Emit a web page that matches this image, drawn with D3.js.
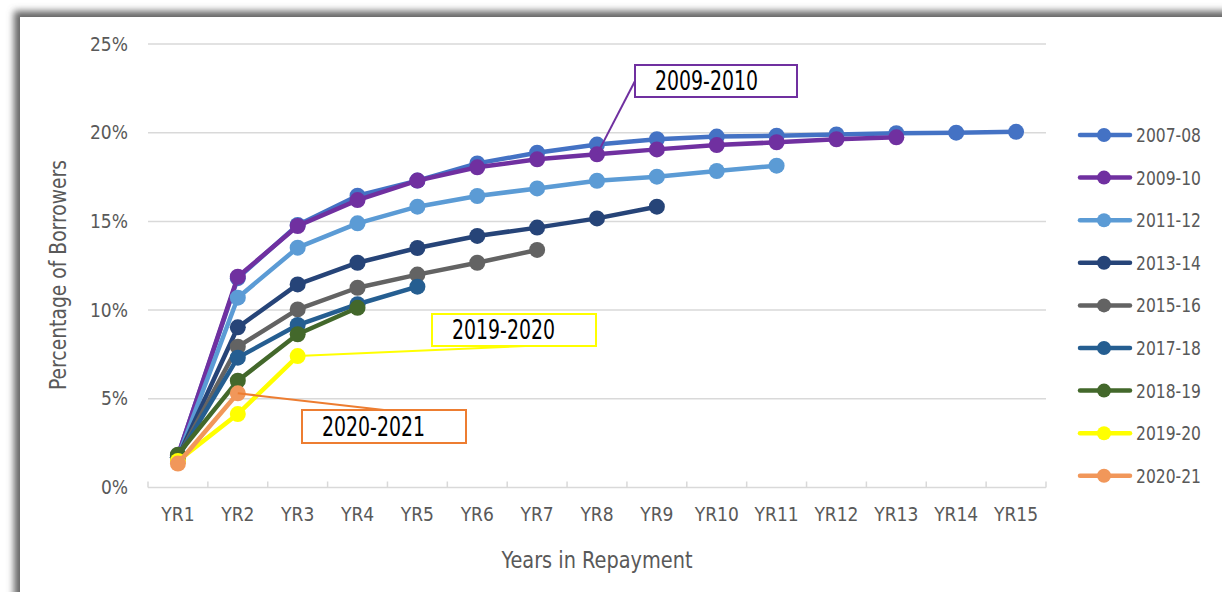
<!DOCTYPE html>
<html>
<head>
<meta charset="utf-8">
<script src="https://cdn.jsdelivr.net/npm/d3@7"></script>
<style>
  html, body { margin: 0; padding: 0; background: #fff; }
  svg { display: block; }
  text { font-family: "Liberation Sans Narrow", "DejaVu Sans Condensed", "Roboto", sans-serif; }
</style>
</head>
<body>
<div id="chart"></div>
<script>
/* Cumulative default share by repayment cohort */

const years = ['YR1','YR2','YR3','YR4','YR5','YR6','YR7','YR8','YR9','YR10','YR11','YR12','YR13','YR14','YR15'];
const yTicks = [0, 5, 10, 15, 20, 25];

const cohorts = ['2007-08','2009-10','2011-12','2013-14','2015-16','2017-18','2018-19','2019-20','2020-21'];
const colors  = ['#4472C4','#7030A0','#5B9BD5','#264478','#636363','#255E91','#43682B','#FFFF00','#F1975A'];

const v0708 = [1.8, 11.8, 14.8, 16.45, 17.3, 18.27, 18.87, 19.33, 19.63, 19.78, 19.83, 19.9, 19.97, 20.0, 20.05];
const v0910 = [1.8, 11.88, 14.74, 16.2, 17.3, 18.05, 18.5, 18.78, 19.06, 19.3, 19.46, 19.63, 19.74];
const v1112 = [1.7, 10.7, 13.52, 14.89, 15.83, 16.43, 16.86, 17.29, 17.52, 17.84, 18.14];
const v1314 = [1.7, 9.03, 11.45, 12.67, 13.5, 14.18, 14.65, 15.17, 15.83];
const v1516 = [1.7, 7.94, 10.04, 11.26, 12.0, 12.67, 13.39];
const v1718 = [1.7, 7.32, 9.16, 10.33, 11.32];
const v1819 = [1.85, 6.02, 8.64, 10.13];
const v1920 = [1.5, 4.14, 7.41];
const v2021 = [1.35, 5.31];

const values = [v0708, v0910, v1112, v1314, v1516, v1718, v1819, v1920, v2021];

// callouts: series index, point index, label
const callouts = [
  { s: 1, i: 7, label: '2009-2010', box: [635, 65, 162, 32], anchor: 'left' },
  { s: 7, i: 2, label: '2019-2020', box: [432, 314, 164, 32], anchor: 'right' },
  { s: 8, i: 1, label: '2020-2021', box: [302, 410, 164, 33], anchor: 'top' },
];

const W = 1222, H = 592;
const plot = { left: 148, right: 1046, top: 44, bottom: 487.5 };

const svg = d3.select('#chart').append('svg')
  .attr('width', W).attr('height', H);

const defs = svg.append('defs');
const f = defs.append('filter').attr('id', 'shadow')
  .attr('x', '-5%').attr('y', '-5%').attr('width', '110%').attr('height', '110%');
f.append('feDropShadow').attr('dx', -6).attr('dy', -6)
  .attr('stdDeviation', 3.5).attr('flood-color', '#666').attr('flood-opacity', 1);

svg.append('rect').attr('x', 0).attr('y', 0).attr('width', W).attr('height', H).attr('fill', '#fff');
svg.append('rect').attr('x', 20).attr('y', 17).attr('width', 1400).attr('height', 800)
  .attr('fill', '#fff').attr('filter', 'url(#shadow)');

const x = d3.scaleBand().domain(years).range([plot.left, plot.right]);
const y = d3.scaleLinear().domain([0, 25]).range([plot.bottom, plot.top]);
const cx = d => x(d) + x.bandwidth() / 2;

// gridlines
svg.append('g').selectAll('line').data(yTicks).join('line')
  .attr('x1', plot.left).attr('x2', plot.right)
  .attr('y1', d => y(d)).attr('y2', d => y(d))
  .attr('stroke', '#d9d9d9').attr('stroke-width', 1.5);

// y axis labels
const yAxis = svg.append('g')
  .attr('transform', `translate(${plot.left - 20},0)`)
  .call(d3.axisLeft(y).tickValues(yTicks).tickFormat(d => d + '%').tickSize(0).tickPadding(0));
yAxis.select('.domain').remove();
yAxis.selectAll('text').attr('fill', '#595959').attr('font-size', 19);

// x axis
const xAxis = svg.append('g')
  .attr('transform', `translate(0,${plot.bottom})`)
  .call(d3.axisBottom(x).tickSize(0).tickPadding(20));
xAxis.select('.domain').remove();
xAxis.selectAll('text').attr('fill', '#595959').attr('font-size', 19);

const bounds = years.map(d => x(d)).concat([plot.right]);
svg.append('g').selectAll('line').data(bounds).join('line')
  .attr('x1', d => d).attr('x2', d => d)
  .attr('y1', plot.bottom - 6).attr('y2', plot.bottom)
  .attr('stroke', '#d9d9d9').attr('stroke-width', 1.5);

// axis titles
svg.append('text').attr('x', 597).attr('y', 568)
  .attr('text-anchor', 'middle').attr('fill', '#595959').attr('font-size', 23)
  .attr('textLength', 191).attr('lengthAdjust', 'spacingAndGlyphs')
  .text('Years in Repayment');
svg.append('text').attr('transform', 'translate(66,275) rotate(-90)')
  .attr('text-anchor', 'middle').attr('fill', '#595959').attr('font-size', 23)
  .attr('textLength', 230).attr('lengthAdjust', 'spacingAndGlyphs')
  .text('Percentage of Borrowers');

// series
const line = d3.line().x((d, i) => cx(years[i])).y(d => y(d));
const gSeries = svg.append('g');
values.forEach((vals, s) => {
  const g = gSeries.append('g');
  g.append('path').datum(vals)
    .attr('d', line).attr('fill', 'none')
    .attr('stroke', colors[s]).attr('stroke-width', 4.5)
    .attr('stroke-linejoin', 'round').attr('stroke-linecap', 'round');
  g.selectAll('circle').data(vals).join('circle')
    .attr('cx', (d, i) => cx(years[i])).attr('cy', d => y(d))
    .attr('r', 8).attr('fill', colors[s]);
});

// callouts
callouts.forEach(c => {
  const [bx, by, bw, bh] = c.box;
  const px = cx(years[c.i]), py = y(values[c.s][c.i]);
  let ex, ey;
  if (c.anchor === 'left') { ex = bx; ey = by + bh / 2; }
  else if (c.anchor === 'right') { ex = bx + bw; ey = by + bh - 3; }
  else { ex = bx + bw / 2; ey = by; }
  const col = c.s === 7 ? '#FFFF00' : (c.s === 8 ? '#ED7D31' : colors[c.s]);
  svg.append('line').attr('x1', px).attr('y1', py).attr('x2', ex).attr('y2', ey)
    .attr('stroke', col).attr('stroke-width', 2);
  svg.append('rect').attr('x', bx).attr('y', by).attr('width', bw).attr('height', bh)
    .attr('fill', '#fff').attr('stroke', col).attr('stroke-width', 2);
  svg.append('text').attr('x', bx + 20).attr('y', by + bh / 2 + 9)
    .attr('font-size', 26).attr('fill', '#000')
    .attr('textLength', 103).attr('lengthAdjust', 'spacingAndGlyphs')
    .text(c.label);
});

// legend
const leg = svg.append('g');
cohorts.forEach((name, s) => {
  const ly = 135 + s * 42.6;
  leg.append('line').attr('x1', 1080).attr('x2', 1130).attr('y1', ly).attr('y2', ly)
    .attr('stroke', colors[s]).attr('stroke-width', 4.5).attr('stroke-linecap', 'round');
  leg.append('circle').attr('cx', 1104).attr('cy', ly).attr('r', 7).attr('fill', colors[s]);
  leg.append('text').attr('x', 1136).attr('y', ly + 7)
    .attr('fill', '#595959').attr('font-size', 19)
    .attr('textLength', 65).attr('lengthAdjust', 'spacingAndGlyphs')
    .text(name);
});
</script>
</body>
</html>
